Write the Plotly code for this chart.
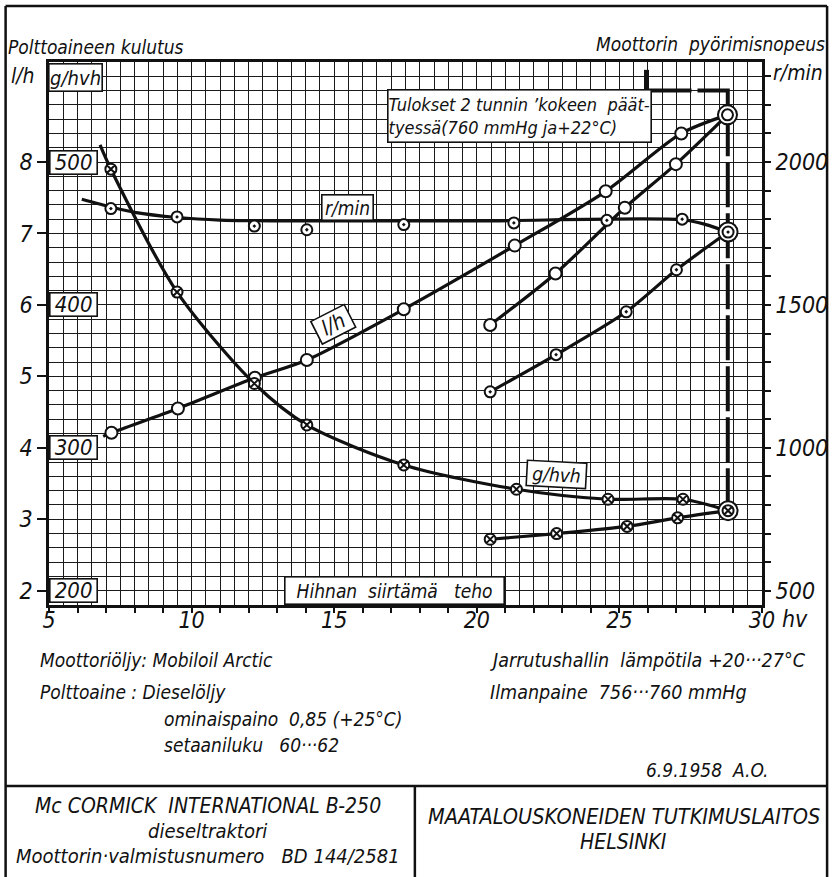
import plotly.graph_objects as go

# ---------------- data ----------------
# x: belt power (hv)
X_TICKS = list(range(5, 31))
X_LABELS = {5: "5", 10: "10", 15: "15", 20: "20", 25: "25", 30: "30"}
LH_TICKS = [2, 3, 4, 5, 6, 7, 8]
GH_BOX_LABELS = [200, 300, 400, 500]
RPM_TICKS = list(range(500, 2301, 100))
RPM_LABELS = {500: "500", 1000: "1000", 1500: "1500", 2000: "2000"}

# fuel consumption l/h (measured points)
LH_UP_HV = [7.19, 9.52, 12.22, 14.04, 17.44, 21.33, 24.52, 27.17, 28.79]
LH_UP = [4.21, 4.55, 4.98, 5.23, 5.94, 6.83, 7.59, 8.40, 8.66]
LH_FIT_HV = [6.9] + LH_UP_HV
LH_FIT = [4.16] + LH_UP
LH_LO_HV = [20.47, 22.76, 25.19, 26.98, 28.79]
LH_LO = [5.72, 6.44, 7.36, 7.97, 8.66]

# engine speed r/min
RPM_UP_HV = [7.17, 9.49, 12.2, 14.04, 17.44, 21.3, 24.56, 27.2, 28.81]
RPM_UP = [1837, 1808, 1776, 1763, 1781, 1787, 1796, 1800, 1755]
RPM_FIT_HV = [6.15, 7.2, 8.0, 9.5, 11.0, 14.0, 20.0, 27.2, 28.0, 28.81]
RPM_FIT = [1870, 1842, 1824, 1806, 1797, 1794, 1794, 1798, 1782, 1755]
RPM_LO_HV = [20.47, 22.78, 25.24, 27.0, 28.81]
RPM_LO = [1196, 1326, 1476, 1623, 1755]

# specific consumption g/hvh
GH_UP_HV = [7.17, 9.49, 12.2, 14.04, 17.44, 21.39, 24.6, 27.23, 28.81]
GH_UP = [495, 409, 345, 316, 288, 271, 264, 264, 256]
GH_FIT_HV = [6.79] + GH_UP_HV
GH_FIT = [512] + GH_UP
GH_LO_HV = [20.47, 22.8, 25.27, 27.04, 28.81]
GH_LO = [236, 240, 245, 251, 256]

# end-of-2h-test marker line (hv, l/h)
DASH_HV = [25.95, 28.8, 28.8]
DASH_LH = [9.0, 9.0, 3.12]
BAR_HV = [25.95, 25.95]
BAR_LH = [9.29, 8.73]

# ---------------- layout geometry ----------------
W, H = 840, 877
ML, MR, MT, MB = 49, 68, 62, 272
PW, PH = W - ML - MR, H - MT - MB
LH_RANGE = [1.8, 9.4]
RPM_RANGE = [v * 250 for v in LH_RANGE]
GH_RANGE = [100 + 50 * v for v in LH_RANGE]

FONT = "Liberation Sans Narrow, DejaVu Sans Condensed, Roboto Condensed, Liberation Sans, sans-serif"
INK = "#111111"


def pxx(px):
    return (px - ML) / PW


def pyy(py):
    return (H - MB - py) / PH


fig = go.Figure()

LW = 3.2
SPL = dict(color=INK, width=LW, shape="spline", smoothing=0.8)
# lines
fig.add_trace(go.Scatter(x=LH_FIT_HV, y=LH_FIT, mode="lines", line=SPL, yaxis="y", hoverinfo="skip"))
fig.add_trace(go.Scatter(x=LH_LO_HV, y=LH_LO, mode="lines", line=SPL, yaxis="y", hoverinfo="skip"))
fig.add_trace(go.Scatter(x=RPM_FIT_HV, y=RPM_FIT, mode="lines", line=SPL, yaxis="y2", hoverinfo="skip"))
fig.add_trace(go.Scatter(x=RPM_LO_HV, y=RPM_LO, mode="lines", line=SPL, yaxis="y2", hoverinfo="skip"))
fig.add_trace(go.Scatter(x=GH_FIT_HV, y=GH_FIT, mode="lines", line=SPL, yaxis="y3", hoverinfo="skip"))
fig.add_trace(go.Scatter(x=GH_LO_HV, y=GH_LO, mode="lines", line=SPL, yaxis="y3", hoverinfo="skip"))
# dashed end line
fig.add_trace(go.Scatter(x=DASH_HV, y=DASH_LH, mode="lines", line=dict(color=INK, width=4, dash="45px,6px"),
                         yaxis="y", hoverinfo="skip"))

# markers
MK = dict(color="white", line=dict(color=INK, width=2))
fig.add_trace(go.Scatter(x=LH_UP_HV + LH_LO_HV[:-1], y=LH_UP + LH_LO[:-1], mode="markers",
                         marker=dict(symbol="circle", size=12, **MK), yaxis="y", hoverinfo="skip"))
fig.add_trace(go.Scatter(x=RPM_UP_HV + RPM_LO_HV[:-1], y=RPM_UP + RPM_LO[:-1], mode="markers",
                         marker=dict(symbol="circle-dot", size=11, **MK), yaxis="y2", hoverinfo="skip"))
fig.add_trace(go.Scatter(x=GH_UP_HV + GH_LO_HV[:-1], y=GH_UP + GH_LO[:-1], mode="markers",
                         marker=dict(symbol="circle-x", size=11, **MK), yaxis="y3", hoverinfo="skip"))
# end points: double circles
for xs, ys, ax, sym in [(LH_UP_HV, LH_UP, "y", "circle"), (RPM_UP_HV, RPM_UP, "y2", "circle-dot"),
                        (GH_UP_HV, GH_UP, "y3", "circle-x")]:
    fig.add_trace(go.Scatter(x=[xs[-1]], y=[ys[-1]], mode="markers",
                             marker=dict(symbol="circle", size=19, **MK), yaxis=ax, hoverinfo="skip"))
    fig.add_trace(go.Scatter(x=[xs[-1]], y=[ys[-1]], mode="markers",
                             marker=dict(symbol=sym, size=11, **MK), yaxis=ax, hoverinfo="skip"))

GRID = dict(color="#1a1a1a", width=1.2)
TF = dict(family=FONT, size=23, color=INK, style="italic")

fig.update_layout(
    width=W, height=H, margin=dict(l=ML, r=MR, t=MT, b=MB, pad=0),
    paper_bgcolor="white", plot_bgcolor="white", showlegend=False,
    font=dict(family=FONT, color=INK),
    xaxis=dict(range=[5, 30], tickmode="array", tickvals=[v for v in X_TICKS if v in X_LABELS],
               ticktext=[X_LABELS[v] for v in X_TICKS if v in X_LABELS],
               ticks="outside", ticklen=1, tickwidth=2, tickcolor=INK, ticklabelstandoff=-8,
               showgrid=True, gridcolor=GRID["color"], gridwidth=GRID["width"],
               minor=dict(tickmode="linear", tick0=0, dtick=0.5, showgrid=True,
                          gridcolor=GRID["color"], gridwidth=GRID["width"], ticks=""),
               showline=True, linecolor=INK, linewidth=2.5, mirror=True,
               zeroline=False, tickfont=TF),
    xaxis2=dict(range=[5, 30], overlaying="x", side="bottom", anchor="y", tickmode="array",
                tickvals=X_TICKS, showticklabels=False, ticks="outside", ticklen=7, tickwidth=2,
                tickcolor=INK, showgrid=False, zeroline=False, showline=False),
    yaxis=dict(range=LH_RANGE, tickmode="array", tickvals=LH_TICKS,
               ticks="outside", ticklen=9, tickwidth=2, tickcolor=INK,
               showgrid=True, gridcolor=GRID["color"], gridwidth=GRID["width"],
               minor=dict(tickmode="linear", tick0=0, dtick=0.2, showgrid=True,
                          gridcolor=GRID["color"], gridwidth=GRID["width"], ticks=""),
               showline=True, linecolor=INK, linewidth=2.5, mirror=True,
               zeroline=False, tickfont=TF),
    yaxis2=dict(range=RPM_RANGE, overlaying="y", side="right", tickmode="array",
                tickvals=RPM_TICKS, ticktext=[RPM_LABELS.get(v, "") for v in RPM_TICKS],
                ticks="outside", ticklen=8, tickwidth=2, tickcolor=INK,
                showgrid=False, zeroline=False, showline=False, tickfont=TF),
    yaxis3=dict(range=GH_RANGE, overlaying="y", visible=False),
)
# invisible trace to activate the tick-mark axis
fig.add_trace(go.Scatter(x=[], y=[], xaxis="x2", yaxis="y", hoverinfo="skip"))

BOX = dict(bgcolor="white", bordercolor=INK, borderwidth=1.6, borderpad=0, showarrow=False)
AF = dict(family=FONT, size=19, color=INK, style="italic")

# boxed g/hvh tick labels inside plot
for g in GH_BOX_LABELS:
    fig.add_annotation(x=5.86, y=(g - 100) / 50, xref="x", yref="y", text=str(g),
                       width=46, height=22, font=dict(family=FONT, size=22, color=INK, style="italic"), **BOX)
fig.add_annotation(x=5.93, y=9.18, xref="x", yref="y", text="g/hvh", width=52, height=26,
                   font=dict(family=FONT, size=20, color=INK, style="italic"), **BOX)
fig.add_annotation(x=15.46, y=7.37, xref="x", yref="y", text="r/min", width=50, height=24,
                   font=AF, **BOX)
fig.add_annotation(x=14.96, y=5.72, xref="x", yref="y", text="l/h", width=36, height=24,
                   textangle=-27, font=dict(family=FONT, size=21, color=INK, style="italic"), **BOX)
fig.add_annotation(x=22.81, y=3.63, xref="x", yref="y", text="g/hvh", width=58, height=24,
                   textangle=3, font=AF, **BOX)
fig.add_annotation(x=17.1, y=2.0, xref="x", yref="y", text="Hihnan\u00a0 siirtämä\u00a0\u00a0 teho",
                   width=218, height=26, font=AF, **BOX)
fig.add_annotation(x=pxx(526), y=pyy(88.5), xref="paper", yref="paper",
                   text="Tulokset 2 tunnin ’kokeen\u00a0 päät-<br>tyessä(760 mmHg ja+22°C)",
                   width=262, height=51, align="left", font=dict(family=FONT, size=18, color=INK, style="italic"),
                   **BOX)
fig.add_trace(go.Scatter(x=BAR_HV, y=BAR_LH, mode="lines", line=dict(color=INK, width=5), yaxis="y", hoverinfo="skip"))


# axis titles and free texts
def txt(s, px, py, anchor="left", size=19):
    fig.add_annotation(x=pxx(px), y=pyy(py), xref="paper", yref="paper", text=s, showarrow=False,
                       xanchor=anchor, yanchor="middle",
                       font=dict(family=FONT, size=size, color=INK, style="italic"))


txt("Polttoaineen kulutus", 5, 47, size=19)
txt("l/h", 8, 76, size=21)
txt("Moottorin\u00a0 pyörimisnopeus", 838, 44, anchor="right", size=19)
txt("r/min", 781, 73, size=21)
txt("hv", 790, 619, size=23)

txt("Moottoriöljy: Mobiloil Arctic", 38, 660)
txt("Polttoaine : Dieselöljy", 38, 692)
txt("ominaispaino\u00a0 0,85 (+25°C)", 164, 719)
txt("setaaniluku\u00a0\u00a0 60···62", 164, 745)
txt("Jarrutushallin\u00a0 lämpötila +20···27°C", 494, 660, size=19.5)
txt("Ilmanpaine\u00a0 756···760 mmHg", 494, 692, size=19.5)
txt("6.9.1958\u00a0 A.O.", 652, 770)
txt("Mc CORMICK\u00a0 INTERNATIONAL B-250", 210, 806, anchor="center", size=21)
txt("dieseltraktori", 210, 831, anchor="center", size=20)
txt("Moottorin·valmistusnumero\u00a0\u00a0 BD 144/2581", 210, 856, anchor="center", size=20)
txt("MAATALOUSKONEIDEN TUTKIMUSLAITOS", 632, 817, anchor="center", size=21.5)
txt("HELSINKI", 632, 842, anchor="center", size=21)

# page frame
FR = dict(color=INK, width=2.5)
fig.add_shape(type="line", xref="paper", yref="paper", x0=pxx(5), x1=pxx(5), y0=pyy(6), y1=pyy(877), line=FR)
fig.add_shape(type="line", xref="paper", yref="paper", x0=pxx(5), x1=pxx(838), y0=pyy(6), y1=pyy(6), line=FR)
fig.add_shape(type="line", xref="paper", yref="paper", x0=pxx(838), x1=pxx(838), y0=pyy(6), y1=pyy(877), line=FR)
fig.add_shape(type="line", xref="paper", yref="paper", x0=pxx(5), x1=pxx(838), y0=pyy(786), y1=pyy(786), line=FR)
fig.add_shape(type="line", xref="paper", yref="paper", x0=pxx(420), x1=pxx(420), y0=pyy(786), y1=pyy(877), line=FR)

fig.write_html("out.html", config={"displayModeBar": False},
               post_script="document.body.style.margin='0px';")
